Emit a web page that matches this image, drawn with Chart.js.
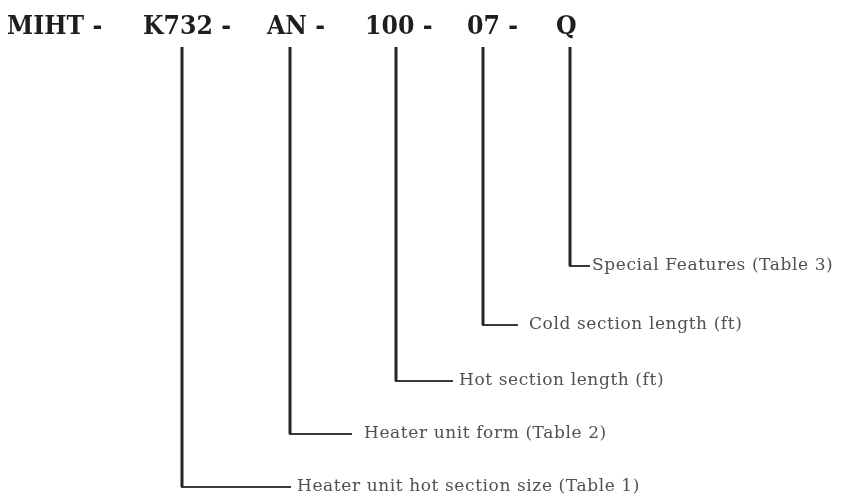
<!DOCTYPE html>
<html>
<head>
<meta charset="utf-8">
<script src="https://cdn.jsdelivr.net/npm/chart.js@4"></script>
<style>
  html, body { margin: 0; padding: 0; background: #fff; }
  #wrap { width: 848px; height: 500px; }
</style>
</head>
<body>
<div id="wrap"><canvas id="codeChart" width="848" height="500"></canvas></div>
<script>
// Part-number breakdown diagram: MIHT - K732 - AN - 100 - 07 - Q

// ---- header code segments ----
const codeParts = ['MIHT -', 'K732 -', 'AN -', '100 -', '07 -', 'Q'];
const codeStartX = [7, 143, 267, 365, 467, 556];
const codeBaseY = 34;

// ---- leader lines (one per code segment after MIHT) ----
const leaderX = [182, 290, 396, 483, 570];
const leaderEndY = [487, 434, 381, 325, 266];
const leaderElbowX = [291, 352, 453, 518, 590];
const leaderLabels = [
    'Heater unit hot section size (Table 1)',
    'Heater unit form (Table 2)',
    'Hot section length (ft)',
    'Cold section length (ft)',
    'Special Features (Table 3)'
];
const labelStartX = [297, 364, 459, 529, 592];
const leaderTopY = 47;

(function () {
    'use strict';

    const vertSets = leaderX.map((x, i) => ({
        type: 'line',
        data: [{ x: x, y: leaderTopY }, { x: x, y: leaderEndY[i] }],
        borderColor: '#262626',
        borderWidth: 3,
        pointRadius: 0,
        fill: false,
        clip: false
    }));
    const horizSets = leaderX.map((x, i) => ({
        type: 'line',
        data: [{ x: x - 1, y: leaderEndY[i] }, { x: leaderElbowX[i], y: leaderEndY[i] }],
        borderColor: '#3a3a3a',
        borderWidth: 2,
        pointRadius: 0,
        fill: false,
        clip: false
    }));

    // text drawn through the chart scales
    const textPlugin = {
        id: 'codeText',
        afterDatasetsDraw(chart) {
            const { ctx, scales: { x, y } } = chart;
            ctx.save();
            ctx.fillStyle = '#1e1e1e';
            ctx.font = 'bold 26px "DejaVu Serif", serif';
            ctx.textBaseline = 'alphabetic';
            ctx.textAlign = 'left';
            codeParts.forEach((t, i) => {
                const px = x.getPixelForValue(codeStartX[i]);
                const py = y.getPixelForValue(codeBaseY);
                ctx.save();
                ctx.translate(px, py);
                ctx.scale(0.91, 1);   // narrower, like the slab face in the reference
                ctx.fillText(t, 0, 0);
                ctx.restore();
            });
            ctx.fillStyle = '#505050';
            ctx.font = '17px "DejaVu Serif", serif';
            ctx.letterSpacing = '0.6px';
            ctx.textBaseline = 'middle';
            leaderLabels.forEach((t, i) => {
                ctx.fillText(t, x.getPixelForValue(labelStartX[i]), y.getPixelForValue(leaderEndY[i]));
            });
            ctx.restore();
        }
    };

    new Chart(document.getElementById('codeChart'), {
        type: 'line',
        data: { datasets: vertSets.concat(horizSets) },
        options: {
            responsive: false,
            devicePixelRatio: 1,
            animation: false,
            layout: { padding: 0 },
            plugins: { legend: { display: false }, tooltip: { enabled: false } },
            scales: {
                x: { type: 'linear', min: 0, max: 848, display: false },
                y: { type: 'linear', min: 0, max: 500, reverse: true, display: false }
            }
        },
        plugins: [textPlugin]
    });
})();
</script>
</body>
</html>
